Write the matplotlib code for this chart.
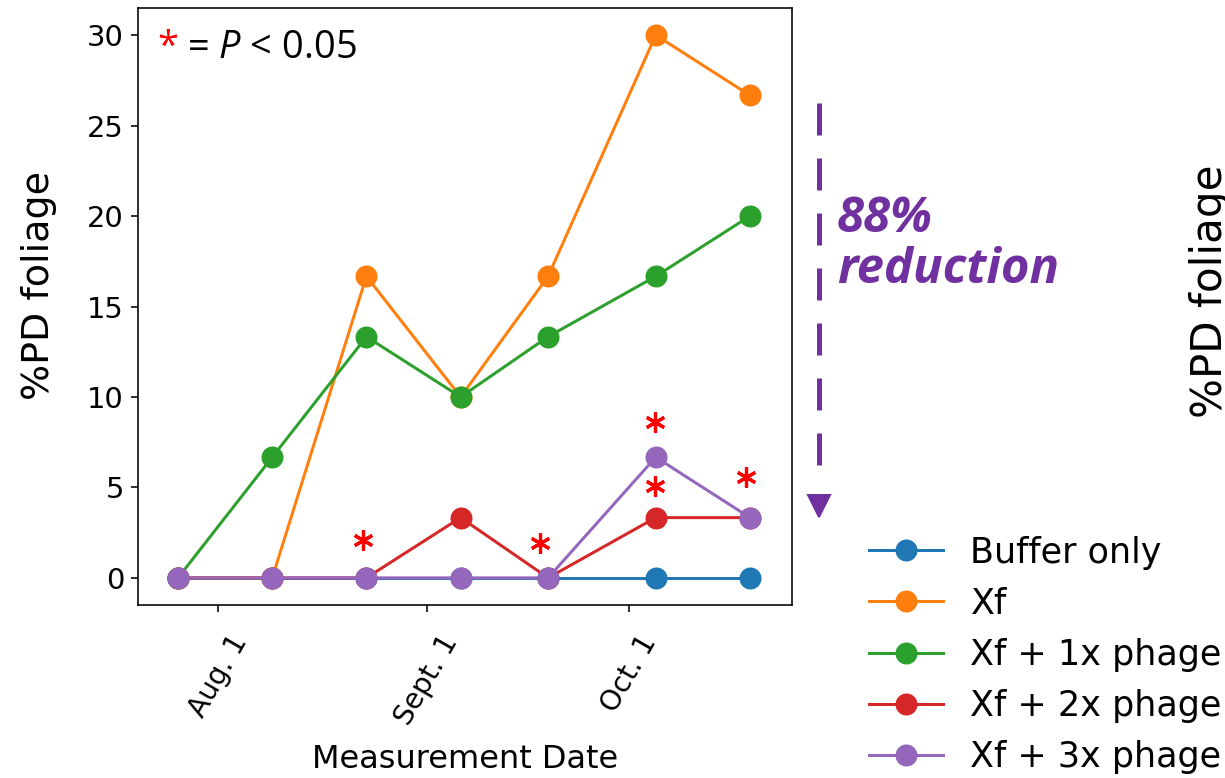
import datetime as dt
import matplotlib
matplotlib.use("Agg")
import matplotlib.pyplot as plt
from matplotlib.lines import Line2D

plt.rcParams['mathtext.fontset'] = 'custom'
plt.rcParams['mathtext.rm'] = 'Open Sans'
plt.rcParams['mathtext.it'] = 'Open Sans:italic'

# ---- data ----
dates = ["2019-07-26", "2019-08-09", "2019-08-23", "2019-09-06",
         "2019-09-19", "2019-10-05", "2019-10-19"]
buffer_only = [0, 0, 0, 0, 0, 0, 0]
xf = [0, 0, 16.67, 10, 16.67, 30, 26.67]
xf_1x = [0, 6.67, 13.33, 10, 13.33, 16.67, 20]
xf_2x = [0, 0, 0, 3.33, 0, 3.33, 3.33]
xf_3x = [0, 0, 0, 0, 0, 6.67, 3.33]
series_labels = ["Buffer only", "Xf", "Xf + 1x phage", "Xf + 2x phage", "Xf + 3x phage"]
series_colors = ["#1f77b4", "#ff7f0e", "#2ca02c", "#d62728", "#9467bd"]

sig_dates = ["2019-08-22 13:00", "2019-09-17 20:00", "2019-10-04 20:00",
             "2019-10-04 20:00", "2019-10-18 10:00"]
sig_y = [2.1, 1.9, 8.6, 5.1, 5.6]

tick_dates = ["2019-08-01", "2019-09-01", "2019-10-01"]
tick_labels = ["Aug. 1", "Sept. 1", "Oct. 1"]
y_ticks = [0, 5, 10, 15, 20, 25, 30]


def to_dt(s):
    fmt = "%Y-%m-%d %H:%M" if ":" in s else "%Y-%m-%d"
    return dt.datetime.strptime(s, fmt)


x = [to_dt(d) for d in dates]

W, H = 1225, 778
DPI = 144
fig = plt.figure(figsize=(W / DPI, H / DPI), dpi=DPI)
ax = fig.add_axes([138 / W, 1 - 605 / H, (792 - 138) / W, (605 - 8) / H])

for vals, lab, col in zip([buffer_only, xf, xf_1x, xf_2x, xf_3x], series_labels, series_colors):
    ax.plot(x, vals, marker='o', markersize=10, linewidth=1.5, color=col, label=lab)

# significance asterisks
ax.plot([to_dt(d) for d in sig_dates], sig_y, linestyle='none', marker=(6, 2, 0),
        markersize=10, markeredgewidth=1.6, color='red', clip_on=False)

ax.set_xlim(to_dt("2019-07-26") - dt.timedelta(days=5.95),
            to_dt("2019-10-19") + dt.timedelta(days=6.25))
ax.set_ylim(-1.5, 31.5)
ax.set_xticks([to_dt(d) for d in tick_dates])
ax.set_xticklabels(tick_labels, rotation=60, ha='center', fontsize=14)
ax.tick_params(axis='x', pad=9)
ax.set_yticks(y_ticks)
ax.tick_params(axis='y', labelsize=14.5)
ax.set_xlabel("Measurement Date", fontsize=16, labelpad=7)
ax.set_ylabel("%PD foliage", fontsize=19)
ax.yaxis.set_label_coords((57 - 138) / 654, (605 - 286) / 597)

# key text
fig.text(157 / W, 1 - 58 / H, "*", color='red', fontsize=19, family='Open Sans', va='baseline')
fig.text(187 / W, 1 - 58 / H, r"= $\mathit{P}$ < 0.05", color='black', fontsize=19,
         family='Open Sans', va='baseline')

# dashed reduction arrow
purple = "#7030A0"
ln = Line2D([819 / W, 819 / W], [1 - 103 / H, 1 - 468 / H], transform=fig.transFigure,
            color=purple, linewidth=2.5, dashes=(6.4, 4.6), solid_capstyle='butt',
            dash_capstyle='butt')
fig.add_artist(ln)
tri = Line2D([819 / W], [1 - 506 / H], transform=fig.transFigure, marker='v',
             markersize=11, color=purple, linestyle='none')
fig.add_artist(tri)
fig.text(837 / W, 1 - 283 / H, "88%\nreduction", color=purple, fontsize=24.5,
         family='Open Sans', weight='bold', style='italic', va='baseline',
         linespacing=1.05)

# legend
ax.legend(loc='upper left', bbox_to_anchor=(855 / W, 1 - 521.5 / H),
          bbox_transform=fig.transFigure, frameon=False, fontsize=17.5,
          handlelength=2.1, handletextpad=0.8, labelspacing=0.49, borderaxespad=0)

# partial second panel label (cut off at the right edge, as in the source)
fig.text(1189 / W, 1 - 291 / H, "%PD foliage", rotation=90, fontsize=21,
         va='center', ha='left')

fig.savefig("out.png", dpi=DPI)
